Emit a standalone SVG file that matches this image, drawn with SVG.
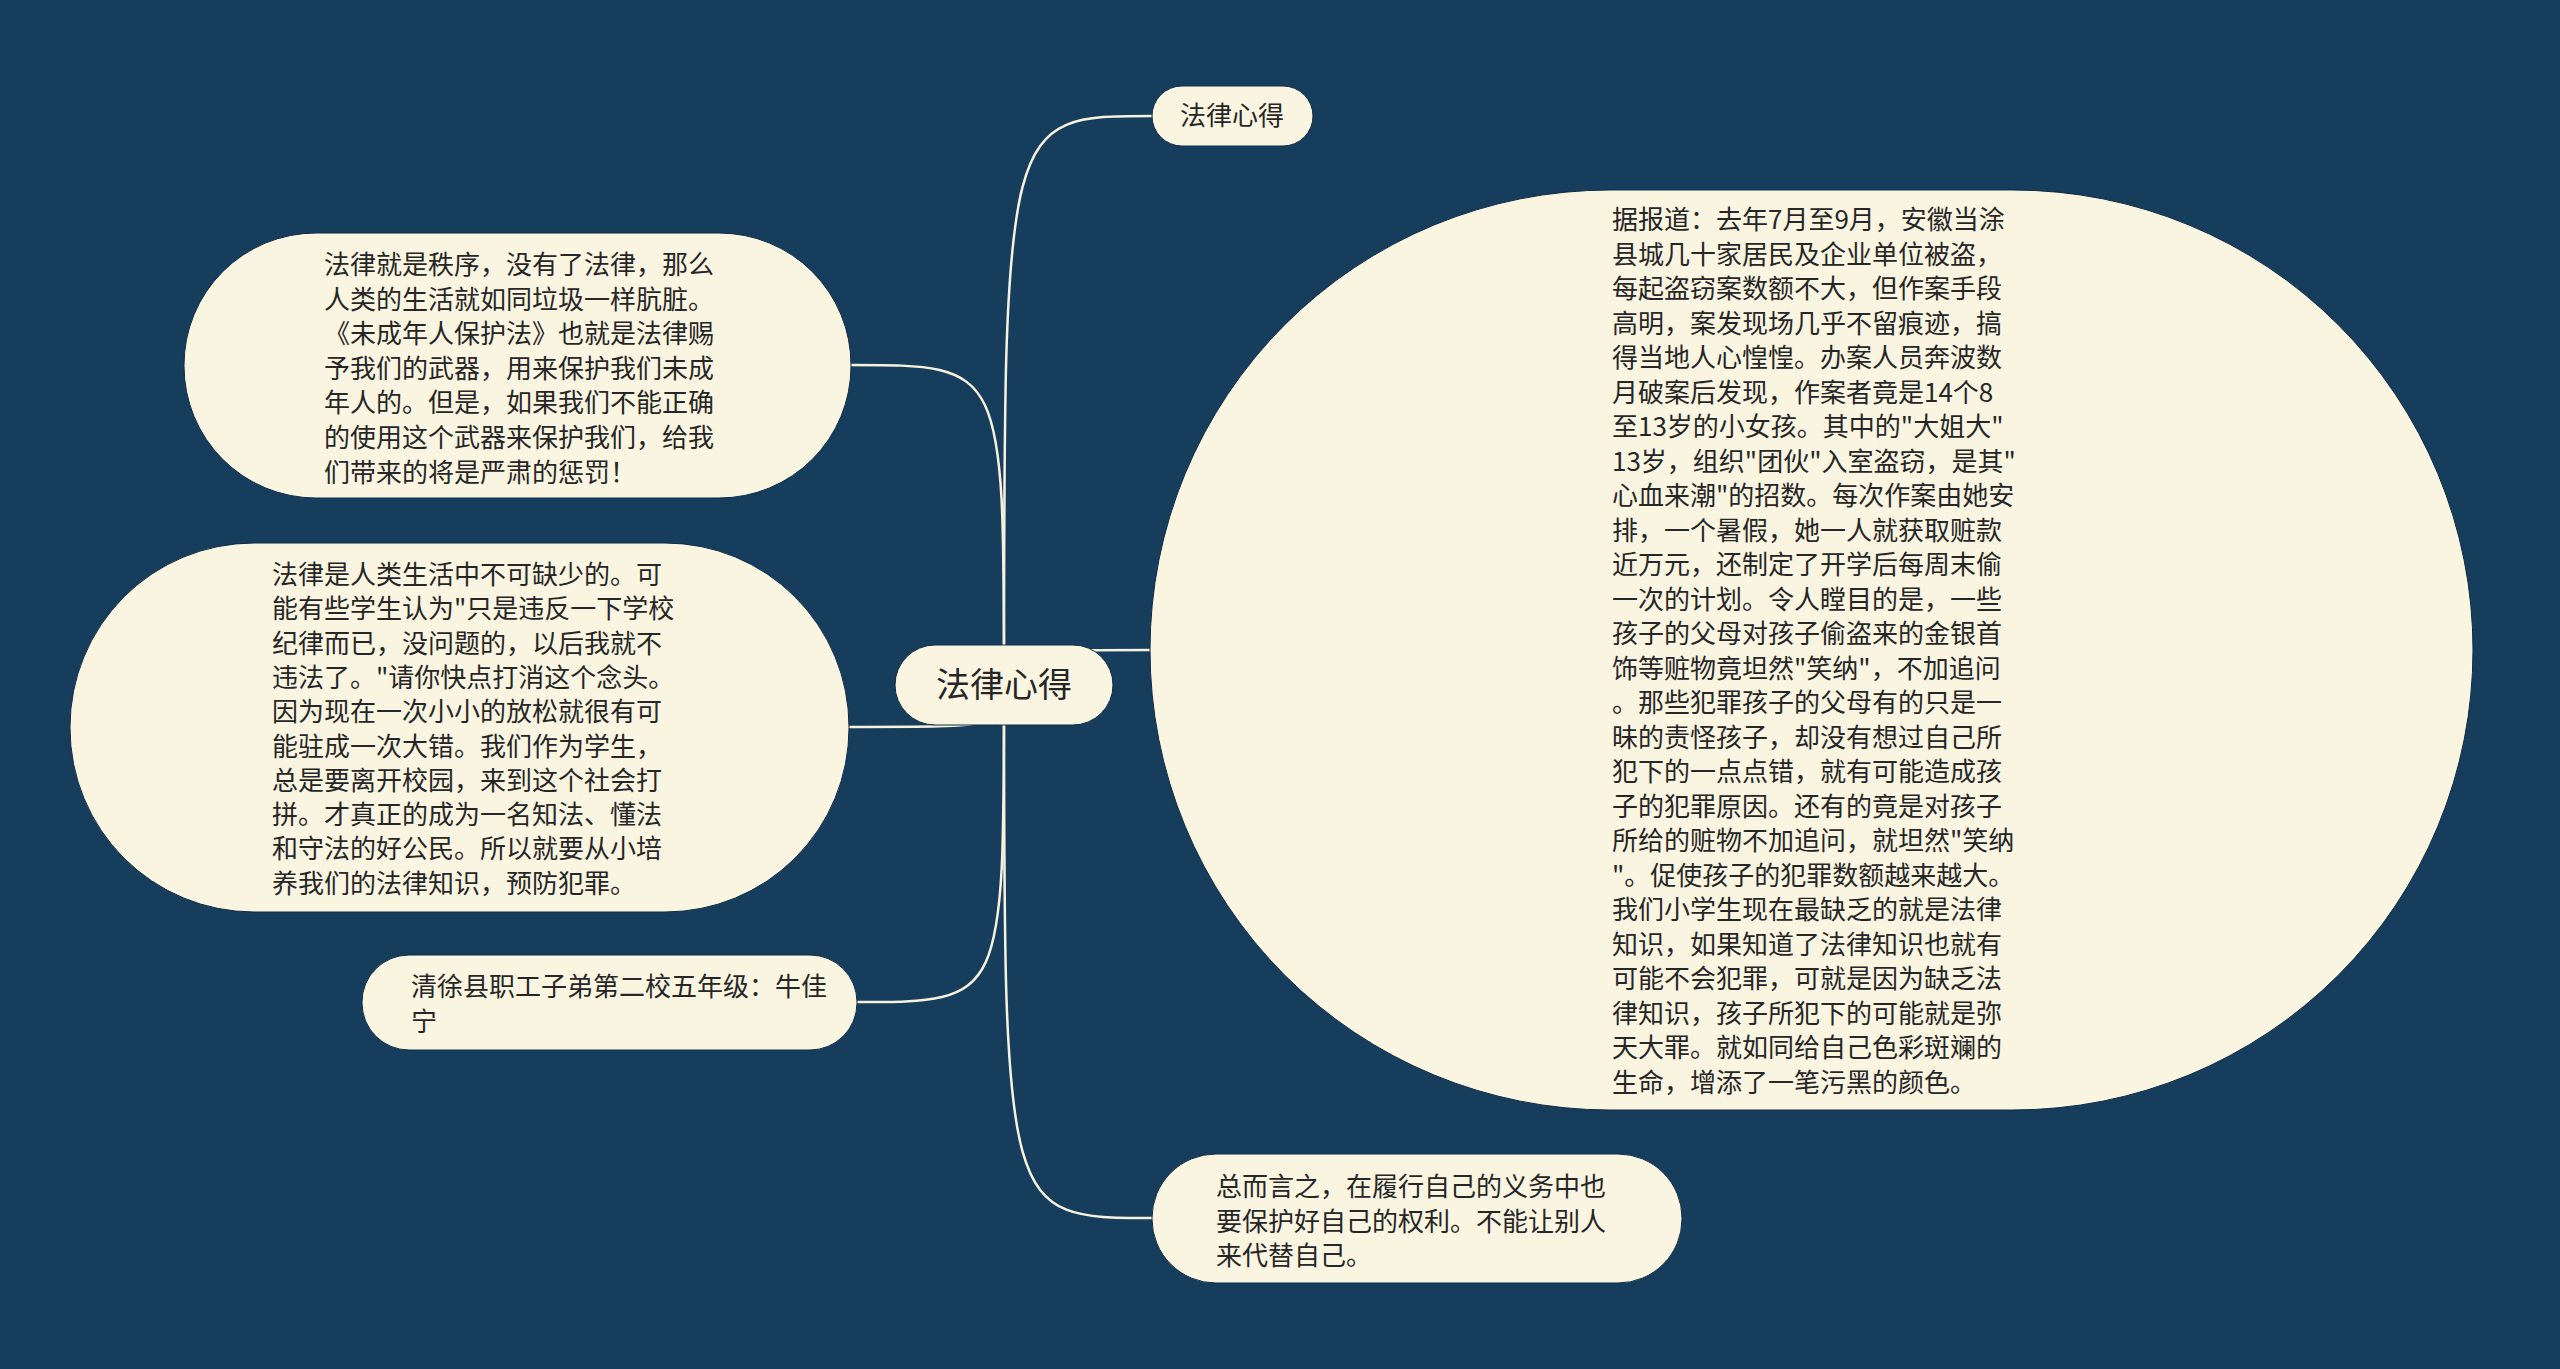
<svg xmlns="http://www.w3.org/2000/svg" width="2560" height="1369" viewBox="0 0 2560 1369">
<style>
.bg{fill:#173d5d}
.node{fill:#faf5e1;stroke:#0f2c45;stroke-width:1}
.conn{fill:none;stroke:#f7f2de;stroke-width:2.5}
.t{font-family:"Noto Sans CJK SC","Noto Sans",sans-serif;font-size:26px;fill:#262626}
.tc{font-family:"Noto Sans CJK SC","Noto Sans",sans-serif;fill:#262626;text-anchor:middle}
</style>
<rect class="bg" x="0" y="0" width="2560" height="1369"/>
<g id="connectors">
<path class="conn" d="M1004,685 C1004,116 1004,116 1152,116"/>
<path class="conn" d="M1004,685 C1004,365 1004,365 851,365"/>
<path class="conn" d="M1004,685 C1004,727 1004,727 849,727"/>
<path class="conn" d="M1004,685 C1004,1002 1004,1002 857,1002"/>
<path class="conn" d="M1004,685 C1004,650 1004,650 1150,650"/>
<path class="conn" d="M1004,685 C1004,1218 1004,1218 1152,1218"/>
</g>
<g id="node-center">
<rect class="node" x="895" y="645" width="218" height="80" rx="40"/>
<text class="tc" x="1004" y="697" font-size="34">法律心得</text>
</g>
<g id="node-top">
<rect class="node" x="1152" y="86" width="161" height="60" rx="30"/>
<text class="tc" x="1232" y="125" font-size="26">法律心得</text>
</g>
<g id="node-left1">
<rect class="node" x="184" y="233" width="667" height="265" rx="132"/>
<text class="t" x="324" y="274">
<tspan x="324" dy="0">法律就是秩序，没有了法律，那么</tspan>
<tspan x="324" dy="34.6">人类的生活就如同垃圾一样肮脏。</tspan>
<tspan x="324" dy="34.6">《未成年人保护法》也就是法律赐</tspan>
<tspan x="324" dy="34.6">予我们的武器，用来保护我们未成</tspan>
<tspan x="324" dy="34.6">年人的。但是，如果我们不能正确</tspan>
<tspan x="324" dy="34.6">的使用这个武器来保护我们，给我</tspan>
<tspan x="324" dy="34.6">们带来的将是严肃的惩罚！</tspan>
</text>
</g>
<g id="node-left2">
<rect class="node" x="70" y="543" width="779" height="369" rx="184"/>
<text class="t" x="272" y="584">
<tspan x="272" dy="0">法律是人类生活中不可缺少的。可</tspan>
<tspan x="272" dy="34.3">能有些学生认为"只是违反一下学校</tspan>
<tspan x="272" dy="34.3">纪律而已，没问题的，以后我就不</tspan>
<tspan x="272" dy="34.3">违法了。"请你快点打消这个念头。</tspan>
<tspan x="272" dy="34.3">因为现在一次小小的放松就很有可</tspan>
<tspan x="272" dy="34.3">能驻成一次大错。我们作为学生，</tspan>
<tspan x="272" dy="34.3">总是要离开校园，来到这个社会打</tspan>
<tspan x="272" dy="34.3">拼。才真正的成为一名知法、懂法</tspan>
<tspan x="272" dy="34.3">和守法的好公民。所以就要从小培</tspan>
<tspan x="272" dy="34.3">养我们的法律知识，预防犯罪。</tspan>
</text>
</g>
<g id="node-left3">
<rect class="node" x="362" y="955" width="495" height="95" rx="47"/>
<text class="t" x="411" y="996">
<tspan x="411" dy="0">清徐县职工子弟第二校五年级：牛佳</tspan>
<tspan x="411" dy="35">宁</tspan>
</text>
</g>
<g id="node-big">
<rect class="node" x="1150" y="190" width="1323" height="920" rx="460"/>
<text class="t" x="1612" y="229">
<tspan x="1612" dy="0">据报道：去年7月至9月，安徽当涂</tspan>
<tspan x="1612" dy="34.5">县城几十家居民及企业单位被盗，</tspan>
<tspan x="1612" dy="34.5">每起盗窃案数额不大，但作案手段</tspan>
<tspan x="1612" dy="34.5">高明，案发现场几乎不留痕迹，搞</tspan>
<tspan x="1612" dy="34.5">得当地人心惶惶。办案人员奔波数</tspan>
<tspan x="1612" dy="34.5">月破案后发现，作案者竟是14个8</tspan>
<tspan x="1612" dy="34.5">至13岁的小女孩。其中的"大姐大"</tspan>
<tspan x="1612" dy="34.5">13岁，组织"团伙"入室盗窃，是其"</tspan>
<tspan x="1612" dy="34.5">心血来潮"的招数。每次作案由她安</tspan>
<tspan x="1612" dy="34.5">排，一个暑假，她一人就获取赃款</tspan>
<tspan x="1612" dy="34.5">近万元，还制定了开学后每周末偷</tspan>
<tspan x="1612" dy="34.5">一次的计划。令人瞠目的是，一些</tspan>
<tspan x="1612" dy="34.5">孩子的父母对孩子偷盗来的金银首</tspan>
<tspan x="1612" dy="34.5">饰等赃物竟坦然"笑纳"，不加追问</tspan>
<tspan x="1612" dy="34.5">。那些犯罪孩子的父母有的只是一</tspan>
<tspan x="1612" dy="34.5">昧的责怪孩子，却没有想过自己所</tspan>
<tspan x="1612" dy="34.5">犯下的一点点错，就有可能造成孩</tspan>
<tspan x="1612" dy="34.5">子的犯罪原因。还有的竟是对孩子</tspan>
<tspan x="1612" dy="34.5">所给的赃物不加追问，就坦然"笑纳</tspan>
<tspan x="1612" dy="34.5">"。促使孩子的犯罪数额越来越大。</tspan>
<tspan x="1612" dy="34.5">我们小学生现在最缺乏的就是法律</tspan>
<tspan x="1612" dy="34.5">知识，如果知道了法律知识也就有</tspan>
<tspan x="1612" dy="34.5">可能不会犯罪，可就是因为缺乏法</tspan>
<tspan x="1612" dy="34.5">律知识，孩子所犯下的可能就是弥</tspan>
<tspan x="1612" dy="34.5">天大罪。就如同给自己色彩斑斓的</tspan>
<tspan x="1612" dy="34.5">生命，增添了一笔污黑的颜色。</tspan>
</text>
</g>
<g id="node-bottom">
<rect class="node" x="1152" y="1154" width="530" height="129" rx="64"/>
<text class="t" x="1216" y="1196">
<tspan x="1216" dy="0">总而言之，在履行自己的义务中也</tspan>
<tspan x="1216" dy="34.5">要保护好自己的权利。不能让别人</tspan>
<tspan x="1216" dy="34.5">来代替自己。</tspan>
</text>
</g>
</svg>
